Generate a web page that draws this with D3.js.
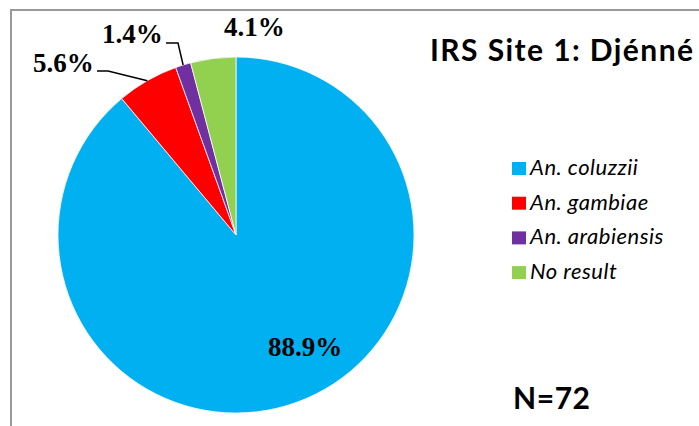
<!DOCTYPE html>
<html>
<head>
<meta charset="utf-8">
<script src="https://cdn.jsdelivr.net/npm/d3@7"></script>
<style>
  html, body { margin: 0; padding: 0; background: #fff; }
  svg { display: block; }
</style>
</head>
<body>
<svg id="chart" width="699" height="426"></svg>
<script>
// ---- Data ----
const categories = ["An. coluzzii", "An. gambiae", "An. arabiensis", "No result"];
const values = [88.9, 5.6, 1.4, 4.1];
const valueLabels = ["88.9%", "5.6%", "1.4%", "4.1%"];
const colors = ["#00B0F0", "#FF0000", "#7030A0", "#92D050"];
const title = "IRS Site 1: Djénné";
const sampleSize = "N=72";

// ---- Layout ----
const W = 699, H = 426;
const cx = 236, cy = 235, R = 178;
// label placement (text start relative to pie centre) + optional leader line
const labelLayout = [
  { dx: 32,   dy: 121, leader: false },
  { dx: -203, dy: -163, leader: true, elbow: [-139, -164], knee: [-128, -164] },
  { dx: -134, dy: -192, leader: true, elbow: [-70, -192], knee: [-58, -192] },
  { dx: -12,  dy: -199, leader: false }
];

const svg = d3.select("#chart");

// chart border (gray frame, clipped by the window on right/bottom)
svg.append("rect")
  .attr("x", 11).attr("y", 10)
  .attr("width", W + 10).attr("height", H + 10)
  .attr("fill", "none").attr("stroke", "#999").attr("stroke-width", 2);

const pie = d3.pie().sort(null).value(d => d)(values);
const arc = d3.arc().innerRadius(0).outerRadius(R);

const g = svg.append("g").attr("transform", `translate(${cx},${cy})`);

g.selectAll("path.slice")
  .data(pie)
  .join("path")
  .attr("class", "slice")
  .attr("d", arc)
  .attr("fill", (d, i) => colors[i])
  .attr("stroke", "#fff")
  .attr("stroke-width", 0.75);

// leader lines
pie.forEach((d, i) => {
  const L = labelLayout[i];
  if (!L.leader) return;
  const a = (d.startAngle + d.endAngle) / 2;
  const px = Math.sin(a) * R, py = -Math.cos(a) * R;
  g.append("polyline")
    .attr("points", `${L.elbow[0]},${L.elbow[1]} ${L.knee[0]},${L.knee[1]} ${px},${py}`)
    .attr("fill", "none").attr("stroke", "#000").attr("stroke-width", 1.5);
});

// value labels
g.selectAll("text.val")
  .data(pie)
  .join("text")
  .attr("class", "val")
  .attr("x", (d, i) => labelLayout[i].dx)
  .attr("y", (d, i) => labelLayout[i].dy)
  .attr("font-family", "'Liberation Serif', 'Times New Roman', serif")
  .attr("font-weight", "bold")
  .attr("font-size", 27)
  .attr("fill", "#000")
  .text((d, i) => valueLabels[i]);

// title
svg.append("text")
  .attr("x", 430).attr("y", 61)
  .attr("font-family", "Lato, 'Open Sans', sans-serif")
  .attr("font-weight", "bold")
  .attr("font-size", 30)
  .attr("textLength", 263)
  .attr("lengthAdjust", "spacing")
  .attr("fill", "#000")
  .text(title);

// legend
const leg = svg.append("g").attr("transform", "translate(512,162)");
const items = leg.selectAll("g.item")
  .data(categories)
  .join("g")
  .attr("class", "item")
  .attr("transform", (d, i) => `translate(0,${i * 34.7})`);
items.append("rect")
  .attr("width", 14).attr("height", 13)
  .attr("fill", (d, i) => colors[i]);
items.append("text")
  .attr("x", 18).attr("y", 13)
  .attr("font-family", "Lato, 'Open Sans', sans-serif")
  .attr("font-style", "italic")
  .attr("font-size", 22)
  .attr("letter-spacing", 0.5)
  .attr("fill", "#000")
  .text(d => d);

// sample size
svg.append("text")
  .attr("x", 513).attr("y", 409)
  .attr("font-family", "Lato, 'Open Sans', sans-serif")
  .attr("font-weight", "bold")
  .attr("font-size", 30)
  .attr("textLength", 77)
  .attr("lengthAdjust", "spacing")
  .attr("fill", "#000")
  .text(sampleSize);
</script>
</body>
</html>
